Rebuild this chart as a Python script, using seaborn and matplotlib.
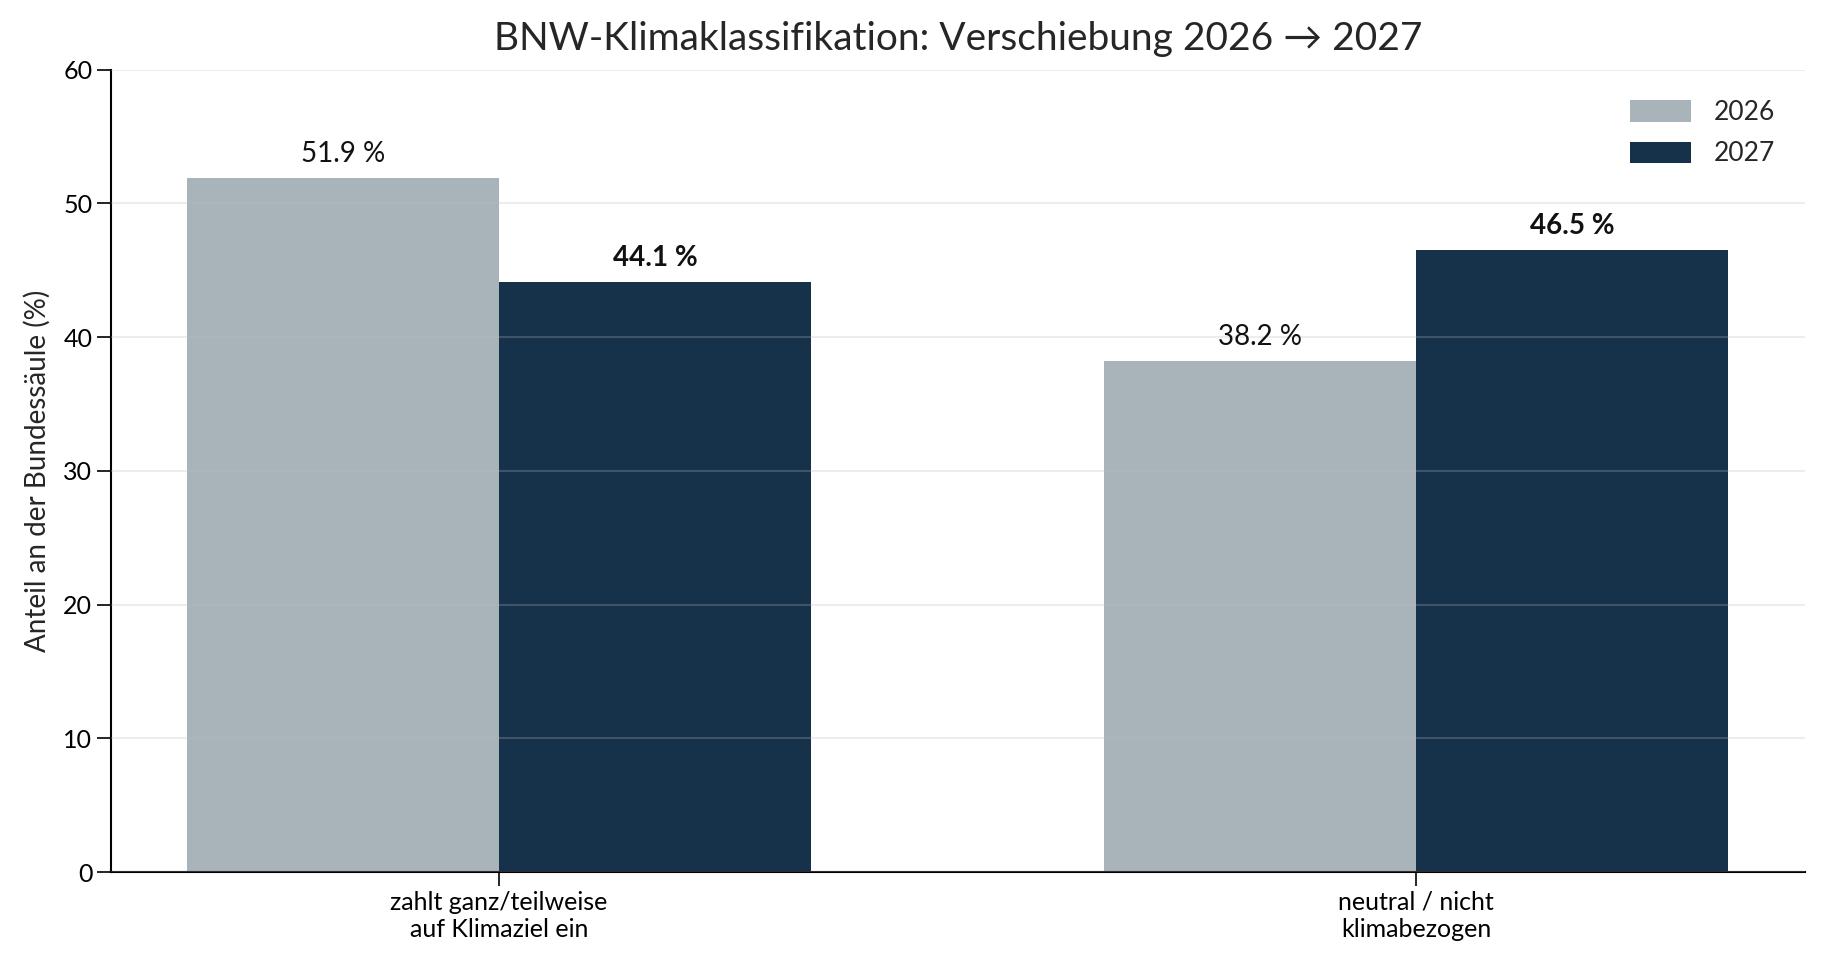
import pandas as pd
import matplotlib.pyplot as plt
import seaborn as sns

categories = ['zahlt ganz/teilweise\nauf Klimaziel ein', 'neutral / nicht\nklimabezogen']
years = ['2026', '2027']
values_2026 = [51.9, 38.2]
values_2027 = [44.1, 46.5]
colors = ['#A9B3BA', '#16324A']

df = pd.DataFrame({
    'Kategorie': categories * 2,
    'Jahr': [years[0]] * 2 + [years[1]] * 2,
    'Anteil': values_2026 + values_2027,
})

sns.set_theme(style='ticks')
plt.rcParams['font.family'] = ['Lato', 'DejaVu Sans']

fig, ax = plt.subplots(figsize=(18.26, 9.69), dpi=100)
fig.subplots_adjust(left=0.0608, right=0.9885, top=0.928, bottom=0.100)

sns.barplot(data=df, x='Kategorie', y='Anteil', hue='Jahr', palette=colors,
            width=0.68, saturation=1, ax=ax, errorbar=None, linewidth=0)

for i, cont in enumerate(ax.containers):
    ax.bar_label(cont, labels=[f'{v:.1f} %' for v in cont.datavalues],
                 padding=8, fontsize=20,
                 fontweight='bold' if i == 1 else 'normal', color='#111111')

ax.set_xlim(-0.423, 1.424)
ax.set_ylim(0, 60)
ax.set_yticks(range(0, 61, 10))
ax.yaxis.grid(True, color='#bbbbbb', alpha=0.25, linewidth=1.5)
ax.set_axisbelow(False)

ax.set_title('BNW-Klimaklassifikation: Verschiebung 2026 \u2192 2027',
             fontsize=28, pad=14)
ax.set_xlabel('')
ax.set_ylabel('Anteil an der Bundessäule (%)', fontsize=20, labelpad=9)
ax.tick_params(axis='both', labelsize=18, length=10, width=1.2, colors='black')

sns.despine(ax=ax)
for s in ['left', 'bottom']:
    ax.spines[s].set_linewidth(1.5)
    ax.spines[s].set_color('black')

ax.legend(title=None, frameon=False, fontsize=19, loc='upper right',
          handlelength=2.3, handleheight=0.85, labelspacing=0.62,
          handletextpad=0.85, borderaxespad=0.75)

plt.savefig('out.png', dpi=100)
